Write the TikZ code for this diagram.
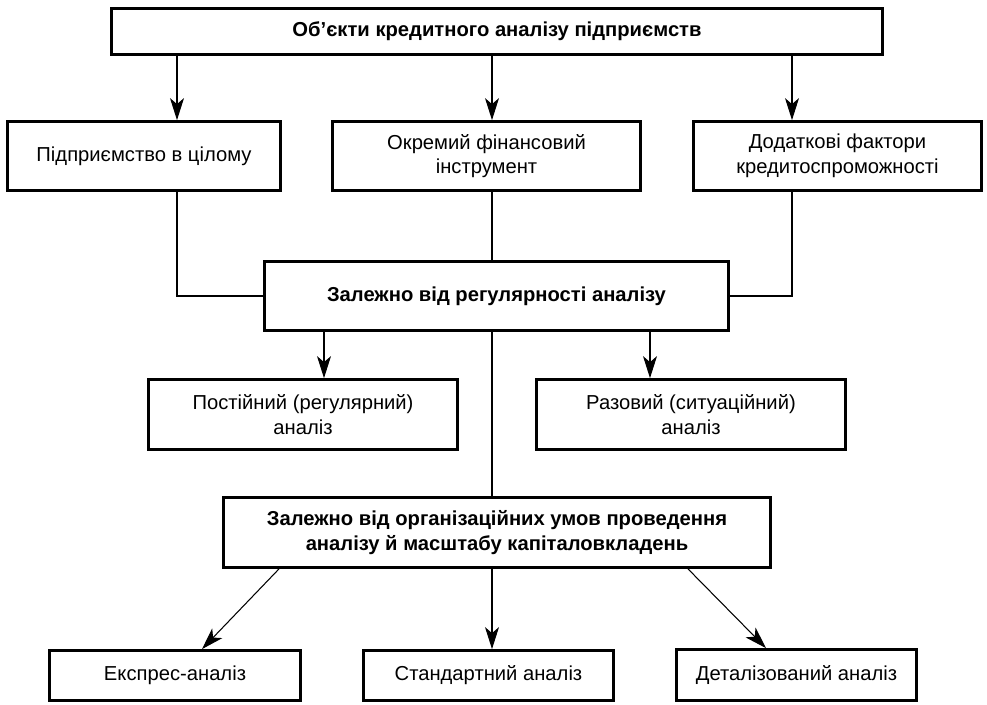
\documentclass[tikz,border=0pt]{standalone}
\usepackage{fontspec}
\setmainfont{Liberation Sans}
\usepackage{tikz}
\usetikzlibrary{arrows.meta}

\begin{document}
\begin{tikzpicture}[x=0.02cm,y=-0.02cm,
  kutu/.style={draw,line width=1.6pt,align=center,inner sep=2pt,
    font=\fontsize{11.5}{14}\selectfont},
  kalin/.style={kutu,font=\fontsize{11.5}{14}\selectfont\bfseries},
  ok/.style={line width=0.6pt,-{Stealth[length=4.4mm,width=2.8mm,inset=1.2mm]}},
  hat/.style={line width=0.6pt}]
\useasboundingbox (0,0) rectangle (987,704);
% kutular
\node[kalin,minimum width=15.42cm,minimum height=0.92cm] (ust) at (497,31.5) {Об’єкти кредитного аналізу підприємств};
\node[kutu,minimum width=5.46cm,minimum height=1.38cm] (butun) at (144,156) {Підприємство в цілому};
\node[kutu,minimum width=6.16cm,minimum height=1.38cm] (arac) at (486.5,156) {Окремий фінансовий\\інструмент};
\node[kutu,minimum width=5.76cm,minimum height=1.38cm] (ek) at (837.5,156) {Додаткові фактори\\кредитоспроможності};
\node[kalin,minimum width=9.28cm,minimum height=1.38cm] (duzen) at (496.5,296) {Залежно від регулярності аналізу};
\node[kutu,minimum width=6.18cm,minimum height=1.40cm] (surekli) at (303,414.5) {Постійний (регулярний)\\аналіз};
\node[kutu,minimum width=6.18cm,minimum height=1.40cm] (tekil) at (691,414.5) {Разовий (ситуаційний)\\аналіз};
\node[kalin,minimum width=10.94cm,minimum height=1.40cm] (orgut) at (497,532.5) {Залежно від організаційних умов проведення\\аналізу й масштабу капіталовкладень};
\node[kutu,minimum width=5.02cm,minimum height=1.00cm] (hizli) at (175,675.5) {Експрес-аналіз};
\node[kutu,minimum width=5.00cm,minimum height=1.00cm] (std) at (488.5,675.5) {Стандартний аналіз};
\node[kutu,minimum width=4.80cm,minimum height=1.02cm] (detay) at (796.5,675) {Деталізований аналіз};
% ok hizalari
\coordinate (s1) at (177,0);
\coordinate (s2) at (492,0);
\coordinate (s3) at (792,0);
\coordinate (s4) at (324,0);
\coordinate (s5) at (650,0);
\coordinate (d1) at (279,0);
\coordinate (d2) at (202,0);
\coordinate (d3) at (688,0);
\coordinate (d4) at (766,0);
% baglantilar
\draw[ok] (ust.south -| s1) -- (butun.north -| s1);
\draw[ok] (ust.south -| s2) -- (arac.north -| s2);
\draw[ok] (ust.south -| s3) -- (ek.north -| s3);
\draw[hat] (butun.south -| s1) |- (duzen.west);
\draw[hat] (ek.south -| s3) |- (duzen.east);
\draw[hat] (arac.south -| s2) -- (duzen.north -| s2);
\draw[ok] (duzen.south -| s4) -- (surekli.north -| s4);
\draw[ok] (duzen.south -| s5) -- (tekil.north -| s5);
\draw[hat] (duzen.south -| s2) -- (orgut.north -| s2);
\draw[ok] (orgut.south -| d1) -- (hizli.north -| d2);
\draw[ok] (orgut.south -| s2) -- (std.north -| s2);
\draw[ok] (orgut.south -| d3) -- (detay.north -| d4);
\end{tikzpicture}
\end{document}
